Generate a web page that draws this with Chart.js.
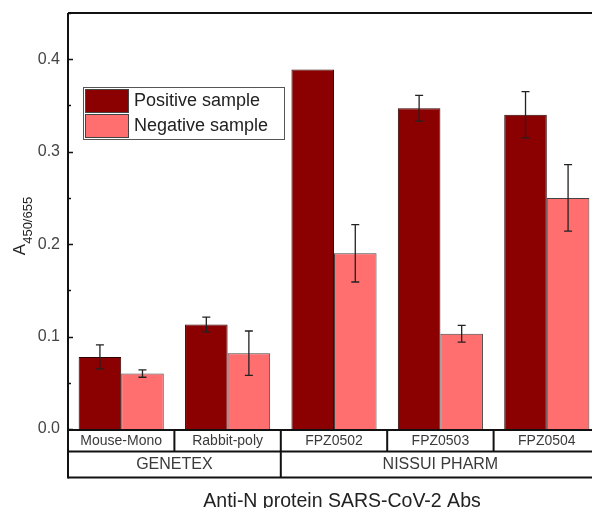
<!DOCTYPE html>
<html>
<head>
<meta charset="utf-8">
<script src="https://cdn.jsdelivr.net/npm/chart.js@4"></script>
<style>
  html, body { margin: 0; padding: 0; background: #fff; overflow: hidden; }
</style>
</head>
<body>
<canvas id="chart" width="600" height="508"></canvas>
<script>
// data
const categories = ["Mouse-Mono", "Rabbit-poly", "FPZ0502", "FPZ0503", "FPZ0504"];
const groups = [["GENETEX", 0, 1], ["NISSUI PHARM", 2, 4]];
const positive = [0.078, 0.113, 0.389, 0.347, 0.340];
const positiveErr = [0.013, 0.008, 0.000, 0.014, 0.025];
const negative = [0.060, 0.082, 0.190, 0.103, 0.250];
const negativeErr = [0.004, 0.024, 0.031, 0.009, 0.036];
const yTicks = [0, 0.1, 0.2, 0.3, 0.4];

const errs = [positiveErr, negativeErr];

// error bars, inside ticks, the table under the axis, legend, titles
const extras = {
  id: 'extras',
  afterDatasetsDraw(chart) {
    const ctx = chart.ctx;
    const y = chart.scales.y;
    ctx.save();
    ctx.strokeStyle = '#222';
    ctx.lineWidth = 1.3;
    chart.data.datasets.forEach((ds, di) => {
      const meta = chart.getDatasetMeta(di);
      meta.data.forEach((bar, i) => {
        const e = errs[di][i];
        if (!e) return;
        const top = y.getPixelForValue(ds.data[i] + e);
        const bot = y.getPixelForValue(ds.data[i] - e);
        ctx.beginPath();
        ctx.moveTo(bar.x, top); ctx.lineTo(bar.x, bot);
        ctx.moveTo(bar.x - 4, top); ctx.lineTo(bar.x + 4, top);
        ctx.moveTo(bar.x - 4, bot); ctx.lineTo(bar.x + 4, bot);
        ctx.stroke();
      });
    });
    ctx.restore();
  },
  afterDraw(chart) {
    const ctx = chart.ctx;
    const a = chart.chartArea;
    const x = chart.scales.x;
    const y = chart.scales.y;
    ctx.save();
    ctx.strokeStyle = '#111';
    ctx.lineWidth = 2;

    const r1 = a.bottom + 22.5, r2 = a.bottom + 48.5;

    // frame: left axis and top line
    ctx.beginPath();
    ctx.moveTo(a.left, a.top); ctx.lineTo(a.right, a.top);
    ctx.moveTo(a.left, a.top); ctx.lineTo(a.left, r2 + 1);
    ctx.stroke();

    // ticks pointing into the plot
    ctx.lineWidth = 1.5;
    ctx.beginPath();
    for (let v = 0; v <= 0.45; v += 0.05) {
      const p = Math.round(y.getPixelForValue(v)) + 0.5;
      const major = Math.abs(v * 10 - Math.round(v * 10)) < 1e-6;
      ctx.moveTo(a.left, p); ctx.lineTo(a.left + (major ? 5 : 3), p);
    }
    ctx.stroke();

    // table under the axis
    const half = (x.getPixelForValue(1) - x.getPixelForValue(0)) / 2;
    ctx.lineWidth = 2;
    ctx.beginPath();
    ctx.moveTo(a.left, a.bottom + 1); ctx.lineTo(a.right, a.bottom + 1);
    ctx.moveTo(a.left, r1); ctx.lineTo(a.right, r1);
    ctx.moveTo(a.left, r2); ctx.lineTo(a.right, r2);
    categories.forEach((c, i) => {
      const e = x.getPixelForValue(i) + half;
      ctx.moveTo(e, a.bottom); ctx.lineTo(e, r1);
    });
    groups.forEach(g => {
      const e = x.getPixelForValue(g[2]) + half;
      ctx.moveTo(e, r1); ctx.lineTo(e, r2);
    });
    ctx.stroke();

    ctx.fillStyle = '#3a3a3a';
    ctx.textAlign = 'center';
    ctx.textBaseline = 'middle';
    ctx.font = '14px "Liberation Sans", sans-serif';
    categories.forEach((c, i) => {
      ctx.fillText(c, x.getPixelForValue(i), a.bottom + 12);
    });
    ctx.font = '16px "Liberation Sans", sans-serif';
    groups.forEach(g => {
      const cx = (x.getPixelForValue(g[1]) + x.getPixelForValue(g[2])) / 2;
      ctx.fillText(g[0], cx, r1 + 13);
    });

    // x title
    ctx.fillStyle = '#222';
    ctx.textBaseline = 'alphabetic';
    ctx.font = '19.5px "Liberation Sans", sans-serif';
    ctx.fillText('Anti-N protein SARS-CoV-2 Abs', 342, 507);

    // y title with subscript
    ctx.save();
    ctx.translate(25, 226);
    ctx.rotate(-Math.PI / 2);
    ctx.textAlign = 'left';
    ctx.font = '17px "Liberation Sans", sans-serif';
    const wA = ctx.measureText('A').width;
    ctx.font = '13px "Liberation Sans", sans-serif';
    const wS = ctx.measureText('450/655').width;
    const x0 = -(wA + wS) / 2;
    ctx.font = '17px "Liberation Sans", sans-serif';
    ctx.fillText('A', x0, 0);
    ctx.font = '13px "Liberation Sans", sans-serif';
    ctx.fillText('450/655', x0 + wA, 7);
    ctx.restore();

    // legend
    const lx = 83, ly = 87;
    ctx.fillStyle = '#fff';
    ctx.fillRect(lx, ly, 201, 52);
    ctx.lineWidth = 1;
    ctx.strokeStyle = '#555';
    ctx.strokeRect(lx + 0.5, ly + 0.5, 201, 52);
    ctx.textBaseline = 'middle';
    chart.data.datasets.forEach((ds, i) => {
      const sy = ly + 2 + i * 25;
      ctx.fillStyle = ds.backgroundColor;
      ctx.fillRect(lx + 2, sy, 43, 23);
      ctx.strokeStyle = '#444';
      ctx.strokeRect(lx + 2.5, sy + 0.5, 43, 23);
      ctx.fillStyle = '#222';
      ctx.textAlign = 'left';
      ctx.font = '18px "Liberation Sans", sans-serif';
      ctx.fillText(ds.label, lx + 51, sy + 12);
    });
    ctx.restore();
  }
};

new Chart(document.getElementById('chart'), {
  type: 'bar',
  data: {
    labels: categories,
    datasets: [
      { label: 'Positive sample', data: positive, backgroundColor: '#8b0000', borderColor: '#2e0505', borderWidth: 1 },
      { label: 'Negative sample', data: negative, backgroundColor: '#ff6f6f', borderColor: '#444', borderWidth: 1 }
    ]
  },
  plugins: [extras],
  options: {
    responsive: false,
    animation: false,
    layout: { padding: { top: 13, right: 0, bottom: 79, left: 0 } },
    datasets: { bar: { categoryPercentage: 0.8, barPercentage: 1 } },
    plugins: { legend: { display: false }, tooltip: { enabled: false } },
    scales: {
      x: {
        display: false,
        grid: { display: false }
      },
      y: {
        min: 0,
        max: 0.45,
        afterFit(scale) {
          scale.width = 68;
          scale.paddingTop = 0;
          scale.paddingBottom = 0;
        },
        afterBuildTicks(scale) { scale.ticks = yTicks.map(v => ({ value: v })); },
        ticks: {
          callback: v => v.toFixed(1),
          color: '#444',
          font: { family: 'Liberation Sans', size: 16 },
          padding: 8
        },
        grid: { display: false, drawTicks: false },
        border: { display: false }
      }
    }
  }
});
</script>
</body>
</html>
